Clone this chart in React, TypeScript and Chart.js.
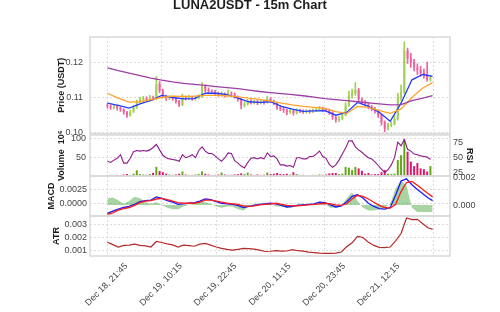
import React, { useEffect, useRef } from 'react';
import { Chart, registerables } from 'chart.js';

Chart.register(...registerables);

// ---------------- data ----------------
const TITLE = 'LUNA2USDT - 15m Chart';
const xTickIdx = [0, 50, 100, 150, 200, 250, 300];
const xTickLabels = ['Dec 18, 21:45', 'Dec 19, 10:15', 'Dec 19, 22:45', 'Dec 20, 11:15', 'Dec 20, 23:45', 'Dec 21, 12:15', ''];

const firstOpen = 0.1078;
const closes = [
  0.1076, 0.1072, 0.1075, 0.1070, 0.1066, 0.1058, 0.1050, 0.1060, 0.1072, 0.1088,
  0.1094, 0.1098, 0.1093, 0.1099, 0.1096, 0.1138, 0.1120, 0.1104, 0.1098, 0.1101,
  0.1097, 0.1090, 0.1079, 0.1100, 0.1097, 0.1101, 0.1096, 0.1099, 0.1102, 0.1132,
  0.1122, 0.1118, 0.1116, 0.1112, 0.1108, 0.1110, 0.1106, 0.1112, 0.1110, 0.1102,
  0.1096, 0.1078, 0.1082, 0.1090, 0.1086, 0.1089, 0.1085, 0.1088, 0.1086, 0.1097,
  0.1089, 0.1085, 0.1072, 0.1068, 0.1064, 0.1058, 0.1062, 0.1056, 0.1063, 0.1061,
  0.1059, 0.1062, 0.1060, 0.1063, 0.1066, 0.1070, 0.1066, 0.1064, 0.1058, 0.1044,
  0.1036, 0.1040, 0.1050, 0.1078, 0.1105, 0.1112, 0.1122, 0.1095, 0.1088, 0.1082,
  0.1074, 0.1068, 0.1062, 0.1050, 0.1030, 0.1012, 0.1022, 0.1026, 0.1040, 0.1100,
  0.1115, 0.1232, 0.1210, 0.1200, 0.1185, 0.1178, 0.1170, 0.1166, 0.1150, 0.1155,
];
const highs = [
  0.1082, 0.1079, 0.1080, 0.1078, 0.1074, 0.1068, 0.1061, 0.1064, 0.1077, 0.1093,
  0.1101, 0.1103, 0.1102, 0.1106, 0.1104, 0.1160, 0.1145, 0.1124, 0.1107, 0.1106,
  0.1104, 0.1099, 0.1092, 0.1110, 0.1104, 0.1106, 0.1104, 0.1104, 0.1108, 0.1142,
  0.1136, 0.1127, 0.1122, 0.1120, 0.1115, 0.1116, 0.1113, 0.1121, 0.1116, 0.1113,
  0.1105, 0.1098, 0.1088, 0.1095, 0.1094, 0.1093, 0.1092, 0.1094, 0.1092, 0.1104,
  0.1100, 0.1093, 0.1087, 0.1076, 0.1072, 0.1067, 0.1068, 0.1065, 0.1068, 0.1067,
  0.1065, 0.1066, 0.1065, 0.1068, 0.1071, 0.1075, 0.1073, 0.1070, 0.1067, 0.1060,
  0.1047, 0.1046, 0.1056, 0.1085, 0.1118, 0.1124, 0.1142, 0.1126, 0.1099, 0.1092,
  0.1085, 0.1078, 0.1072, 0.1065, 0.1053, 0.1034, 0.1028, 0.1032, 0.1048, 0.1112,
  0.1135, 0.1257, 0.1240, 0.1225, 0.1208, 0.1195, 0.1188, 0.1180, 0.1200, 0.1162,
];
const lows = [
  0.1070, 0.1066, 0.1068, 0.1064, 0.1061, 0.1053, 0.1044, 0.1047, 0.1057, 0.1069,
  0.1084, 0.1090, 0.1088, 0.1090, 0.1092, 0.1094, 0.1114, 0.1099, 0.1092, 0.1094,
  0.1092, 0.1084, 0.1074, 0.1077, 0.1093, 0.1094, 0.1092, 0.1093, 0.1096, 0.1100,
  0.1116, 0.1113, 0.1111, 0.1107, 0.1104, 0.1104, 0.1101, 0.1103, 0.1106, 0.1098,
  0.1090, 0.1068, 0.1073, 0.1078, 0.1081, 0.1082, 0.1080, 0.1082, 0.1081, 0.1084,
  0.1085, 0.1080, 0.1066, 0.1063, 0.1058, 0.1051, 0.1055, 0.1050, 0.1053, 0.1057,
  0.1055, 0.1056, 0.1056, 0.1057, 0.1060, 0.1063, 0.1061, 0.1059, 0.1052, 0.1038,
  0.1030, 0.1032, 0.1037, 0.1048, 0.1075, 0.1098, 0.1106, 0.1088, 0.1082, 0.1076,
  0.1068, 0.1062, 0.1056, 0.1044, 0.1022, 0.1003, 0.1008, 0.1017, 0.1022, 0.1036,
  0.1092, 0.1110, 0.1196, 0.1185, 0.1175, 0.1165, 0.1160, 0.1155, 0.1146, 0.1146,
];
// volume in millions
const volume = [
  2, 3, 2, 3, 2, 4, 5, 3, 6, 15,
  5, 4, 3, 5, 8, 24, 13, 10, 6, 4,
  3, 4, 6, 12, 4, 3, 3, 4, 5, 12,
  6, 4, 3, 3, 4, 9, 4, 3, 3, 4,
  5, 7, 5, 9, 4, 3, 4, 3, 3, 9,
  5, 6, 8, 5, 5, 6, 4, 10, 5, 3,
  3, 2, 2, 3, 3, 4, 3, 4, 7, 8,
  8, 5, 6, 24, 22, 16, 24, 20, 14, 6,
  8, 4, 5, 5, 10, 16, 6, 5, 6, 42,
  55, 97, 64, 38, 26, 34, 20, 18, 12, 26,
];
const rsi = [
  44, 42, 46, 49, 55, 41, 41, 49, 60, 62,
  61, 62, 61, 63, 67, 72, 63, 54, 50, 48,
  47, 46, 44, 55, 50, 52, 55, 50, 62, 68,
  61, 57, 57, 53, 48, 44, 50, 58, 57, 45,
  41, 36, 33, 42, 49, 50, 48, 50, 48, 58,
  52, 53, 48, 38, 38, 36, 37, 34, 50, 50,
  48, 48, 52, 52, 56, 61, 52, 49, 39, 34,
  38, 46, 56, 66, 78, 78, 68, 63, 59, 54,
  50, 48, 43, 37, 31, 25, 30, 38, 50, 76,
  70, 80, 64, 61, 56, 55, 53, 52, 51, 47,
];
const emaFast = [
  0.1084, 0.1078, 0.1070, 0.1082, 0.1092, 0.1106, 0.1100, 0.1096, 0.1097, 0.1112,
  0.1112, 0.1108, 0.1098, 0.1088, 0.1086, 0.1088, 0.1075, 0.1067, 0.1061, 0.1062,
  0.1063, 0.1050, 0.1058, 0.1086, 0.1075, 0.1058, 0.1033, 0.1084, 0.1150, 0.1165,
  0.1160,
];
const emaMid = [
  0.1112, 0.1098, 0.1087, 0.1088, 0.1094, 0.1100, 0.1104, 0.1103, 0.1104, 0.1106,
  0.1106, 0.1105, 0.1102, 0.1098, 0.1095, 0.1090, 0.1084, 0.1079, 0.1075, 0.1072,
  0.1069, 0.1060, 0.1055, 0.1075, 0.1072, 0.1063, 0.1055, 0.1068, 0.1100, 0.1127,
  0.1142,
];
const emaSlow = [
  0.1184, 0.1176, 0.1169, 0.1162, 0.1155, 0.1149, 0.1144, 0.1140, 0.1137, 0.1134,
  0.1131, 0.1128, 0.1125, 0.1121, 0.1117, 0.1114, 0.1111, 0.1108, 0.1105, 0.1101,
  0.1097, 0.1094, 0.1091, 0.1088, 0.1085, 0.1082, 0.1079, 0.1080, 0.1091, 0.1098,
  0.1105,
];
const macdLine = [
  -0.0019, -0.0015, -0.0011, -0.0008, -0.0006, -0.0002, 0.0003, 0.0005, 0.0006, 0.0012,
  0.0009, 0.0005, 0.0002, -0.0002, -0.0001, 0.0000, 0.0001, 0.0004, 0.0008, 0.0007,
  0.0003, 0.0000, -0.0001, -0.0002, -0.0004, -0.0008, -0.0006, -0.0004, -0.0002, -0.0001,
  0.0000, -0.0001, -0.0004, -0.0007, -0.0006, -0.0004, -0.0003, -0.0002, -0.0001, 0.0002,
  0.0001, -0.0003, -0.0007, -0.0005, 0.0003, 0.0013, 0.0016, 0.0010, 0.0000, -0.0006,
  -0.0010, -0.0011, -0.0008, 0.0015, 0.0042, 0.0046, 0.0035, 0.0026, 0.0018, 0.0010,
  0.0005,
];
const signalLine = [
  -0.0021, -0.0018, -0.0013, -0.0010, -0.0008, -0.0004, 0.0001, 0.0004, 0.0005, 0.0008,
  0.0009, 0.0007, 0.0004, 0.0001, 0.0000, 0.0000, 0.0000, 0.0002, 0.0006, 0.0006,
  0.0004, 0.0002, 0.0000, -0.0001, -0.0002, -0.0005, -0.0006, -0.0005, -0.0003, -0.0002,
  -0.0001, 0.0000, -0.0002, -0.0004, -0.0005, -0.0005, -0.0004, -0.0003, -0.0002, -0.0001,
  0.0000, -0.0001, -0.0003, -0.0004, -0.0001, 0.0008, 0.0015, 0.0013, 0.0008, 0.0002,
  -0.0004, -0.0008, -0.0009, -0.0002, 0.0022, 0.0039, 0.0041, 0.0034, 0.0026, 0.0018,
  0.0012,
];
const macdHist = [
  0.0005, 0.00055, 0.00035, 0.0001, 0.0003, 0.0006, 0.0005, 0.0002, 0.0001, 0.0002,
  0.0000, -0.0002, -0.0003, -0.0003, -0.0001, 0.0000, 0.0001, 0.0003, 0.0002, 0.0001,
  -0.0001, -0.0002, -0.0001, -0.0001, -0.0003, -0.0004, -0.0001, 0.0001, 0.0001, 0.0001,
  0.0001, -0.0001, -0.0001, -0.0002, -0.0002, 0.0001, 0.0001, 0.0000, 0.0001, 0.0002,
  0.0001, -0.0002, -0.0002, -0.0001, 0.0005, 0.0009, 0.0003, -0.0002, -0.0004, -0.0004,
  -0.0003, -0.0002, 0.0001, 0.0012, 0.0018, 0.0014, -0.0002, -0.0005, -0.0005, -0.0005,
  -0.0005,
];
const atr = [
  0.00164, 0.00146, 0.00127, 0.00140, 0.00142, 0.00150, 0.00140, 0.00137, 0.00128, 0.00170,
  0.00162, 0.00152, 0.00144, 0.00128, 0.00142, 0.00138, 0.00134, 0.00150, 0.00155, 0.00142,
  0.00128, 0.00118, 0.00110, 0.00105, 0.00110, 0.00118, 0.00116, 0.00112, 0.00104, 0.00094,
  0.00096, 0.00100, 0.00097, 0.00098, 0.00108, 0.00100, 0.00097, 0.00090, 0.00086, 0.00082,
  0.00080, 0.00080, 0.00082, 0.00090, 0.00130, 0.00160, 0.00208, 0.00200, 0.00165, 0.00140,
  0.00126, 0.00124, 0.00128, 0.00175, 0.00230, 0.00348, 0.00335, 0.00338, 0.00305, 0.00272,
  0.00264,
];

const priceTicks = [0.10, 0.11, 0.12];
const priceTickLabels = ['0.10', '0.11', '0.12'];
const volTicks = [50, 100];
const volTickLabels = ['50', '100'];
const rsiTicks = [25, 50, 75];
const rsiTickLabels = ['25', '50', '75'];
const macdTicks = [0, 0.0025];
const macdTickLabels = ['0.0000', '0.0025'];
const histTicks = [0, 0.002];
const histTickLabels = ['0.000', '0.002'];
const atrTicks = [0.001, 0.002, 0.003];
const atrTickLabels = ['0.001', '0.002', '0.003'];

// x positions (bar index of each sample)
const barIdx = closes.map((_, k) => k * 3);
const idx5 = macdLine.map((_, k) => Math.min(k * 5, 299));
const idx10 = emaFast.map((_, k) => Math.min(k * 10, 299));
const opens = closes.map((_, k) => (k === 0 ? firstOpen : closes[k - 1]));

// ---------------- style ----------------
const FONT = '"Liberation Sans", Arial, Helvetica, sans-serif';
const GRID = '#d2d2d2';
const TICK = '#444444';
const LABEL = '#1e1e1e';
const UP = '#a2cf52';
const DOWN = '#f0619f';
const VOL_UP = '#62a515';
const VOL_DOWN = '#e1136b';
const X_MIN = -16;
const X_MAX = 315;

Chart.defaults.font.family = FONT;
Chart.defaults.color = TICK;

const pts = (xs: number[], ys: number[]) => xs.map((x, k) => ({ x, y: ys[k] }));

const framePlugin = {
  id: 'panelFrame',
  afterDatasetsDraw(chart: any) {
    const { ctx, chartArea: a } = chart;
    ctx.save();
    ctx.strokeStyle = '#d9d9d9';
    ctx.lineWidth = 1.5;
    ctx.strokeRect(a.left, a.top, a.right - a.left, a.bottom - a.top);
    ctx.restore();
  },
};

function xAxis(showLabels: boolean) {
  const s: any = {
    type: 'linear',
    min: X_MIN,
    max: X_MAX,
    offset: false,
    afterBuildTicks: (sc: any) => {
      sc.ticks = xTickIdx.map((v) => ({ value: v }));
    },
    grid: { color: GRID, lineWidth: 0.8, drawTicks: false, offset: false },
    border: { display: false, dash: [2, 2] },
    ticks: { display: false },
  };
  if (showLabels) {
    s.ticks = {
      display: true,
      autoSkip: false,
      minRotation: 45,
      maxRotation: 45,
      padding: 5,
      labelOffset: 19,
      color: TICK,
      font: { size: 9, family: FONT },
      callback: (_v: any, i: number) => xTickLabels[i] ?? '',
    };
    s.afterFit = (sc: any) => {
      sc.height = 56;
    };
  }
  return s;
}

function yAxis(o: {
  position?: string;
  min: number;
  max: number;
  ticks: number[];
  labels: string[];
  title?: string;
  titleOffset?: number;
  pad: number;
  grid: boolean;
  width: number;
}) {
  return {
    type: 'linear',
    position: o.position ?? 'left',
    min: o.min,
    max: o.max,
    afterBuildTicks: (sc: any) => {
      sc.ticks = o.ticks.map((v) => ({ value: v }));
    },
    afterFit: (sc: any) => {
      sc.width = o.width;
    },
    grid: { display: o.grid, color: GRID, lineWidth: 0.8, drawTicks: false },
    border: { display: false, dash: [2, 2] },
    ticks: {
      padding: o.pad,
      color: TICK,
      font: { size: 9, family: FONT },
      callback: (_v: any, i: number) => o.labels[i],
    },
    title: o.title
      ? {
          display: true,
          text: o.title,
          color: LABEL,
          font: { size: 9, weight: 'bold', family: FONT },
          padding: { top: o.titleOffset ?? 0, bottom: 0 },
        }
      : { display: false },
  };
}

const baseOptions = (padding: any) => ({
  responsive: false,
  animation: false as const,
  events: [] as any[],
  layout: { padding },
  plugins: { legend: { display: false }, tooltip: { enabled: false }, title: { display: false } },
});

const line = (data: any[], color: string, axis: string, width = 1.2) => ({
  type: 'line' as const,
  data,
  borderColor: color,
  borderWidth: width,
  pointRadius: 0,
  fill: false,
  yAxisID: axis,
});

function priceConfig(): any {
  const colors = closes.map((c, k) => (c >= opens[k] ? UP : DOWN));
  return {
    type: 'bar',
    data: {
      datasets: [
        line(pts(idx10, emaSlow), '#9d3ea6', 'y', 1.3),
        line(pts(idx10, emaMid), '#ffa42a', 'y', 1.3),
        line(pts(idx10, emaFast), '#1f3dff', 'y', 1.3),
        {
          type: 'bar',
          data: barIdx.map((x, k) => ({ x, y: [opens[k], closes[k]] })),
          backgroundColor: colors,
          barPercentage: 0.6,
          categoryPercentage: 1,
          grouped: false,
          yAxisID: 'y',
        },
        {
          type: 'bar',
          data: barIdx.map((x, k) => ({ x, y: [lows[k], highs[k]] })),
          backgroundColor: colors,
          barThickness: 1,
          grouped: false,
          yAxisID: 'y',
        },
      ],
    },
    options: {
      ...baseOptions({ top: 0, bottom: 11, left: 0, right: 0 }),
      plugins: {
        legend: { display: false },
        tooltip: { enabled: false },
        title: {
          display: true,
          text: TITLE,
          color: LABEL,
          font: { size: 13, weight: 'bold', family: FONT, lineHeight: 0.8 },
          padding: { top: 0.5, bottom: 26.1 },
        },
      },
      scales: {
        x: xAxis(false),
        y: yAxis({ min: 0.0998, max: 0.1271, ticks: priceTicks, labels: priceTickLabels, title: 'Price (USDT)', titleOffset: 56.6, pad: 7, grid: true, width: 90 }),
        yR: {
          type: 'linear',
          position: 'right',
          min: 0,
          max: 1,
          ticks: { display: false },
          grid: { display: false },
          border: { display: false },
          afterFit: (sc: any) => {
            sc.width = 50;
          },
        },
      },
    },
    plugins: [framePlugin],
  };
}

function volumeConfig(): any {
  const colors = closes.map((c, k) => (c >= opens[k] ? VOL_UP : VOL_DOWN));
  return {
    type: 'bar',
    data: {
      datasets: [
        line(pts(barIdx, rsi), '#8e1a8c', 'rsi', 1.1),
        {
          type: 'bar',
          data: barIdx.map((x, k) => ({ x, y: volume[k] })),
          backgroundColor: colors,
          barPercentage: 0.6,
          categoryPercentage: 1,
          grouped: false,
          yAxisID: 'vol',
        },
      ],
    },
    options: {
      ...baseOptions({ top: 10, bottom: 10, left: 0, right: 0 }),
      scales: {
        x: xAxis(false),
        vol: yAxis({ min: 0, max: 108, ticks: volTicks, labels: volTickLabels, title: 'Volume  10\u2076', titleOffset: 56.6, pad: 4, grid: true, width: 90 }),
        rsi: yAxis({ position: 'right', min: 19.5, max: 87.8, ticks: rsiTicks, labels: rsiTickLabels, title: 'RSI', titleOffset: 25.6, pad: 3, grid: false, width: 50 }),
      },
    },
    plugins: [framePlugin],
  };
}

function macdConfig(): any {
  return {
    type: 'line',
    data: {
      datasets: [
        line(pts(idx5, signalLine), '#ff1a1a', 'macd', 1.3),
        line(pts(idx5, macdLine), '#1a1aff', 'macd', 1.3),
        {
          type: 'line',
          data: pts(idx5, macdHist),
          borderWidth: 0,
          pointRadius: 0,
          backgroundColor: 'rgba(80,170,70,0.5)',
          fill: 'origin',
          yAxisID: 'hist',
        },
      ],
    },
    options: {
      ...baseOptions({ top: 10, bottom: 10, left: 0, right: 0 }),
      scales: {
        x: xAxis(false),
        macd: yAxis({ min: -0.0024, max: 0.00513, ticks: macdTicks, labels: macdTickLabels, title: 'MACD', titleOffset: 46.6, pad: 3, grid: true, width: 90 }),
        hist: yAxis({ position: 'right', min: -0.00079, max: 0.0021, ticks: histTicks, labels: histTickLabels, pad: 3, grid: false, width: 50 }),
      },
    },
    plugins: [framePlugin],
  };
}

function atrConfig(): any {
  return {
    type: 'line',
    data: {
      datasets: [line(pts(idx5, atr), '#b52a2a', 'atr', 1.2)],
    },
    options: {
      ...baseOptions({ top: 10, bottom: 0, left: 0, right: 50 }),
      scales: {
        x: xAxis(true),
        atr: yAxis({ min: 0.0006, max: 0.00363, ticks: atrTicks, labels: atrTickLabels, title: 'ATR', titleOffset: 51.6, pad: 3, grid: true, width: 90 }),
      },
    },
    plugins: [framePlugin],
  };
}

export default function App() {
  const r1 = useRef<HTMLCanvasElement>(null);
  const r2 = useRef<HTMLCanvasElement>(null);
  const r3 = useRef<HTMLCanvasElement>(null);
  const r4 = useRef<HTMLCanvasElement>(null);

  useEffect(() => {
    const charts = [
      new Chart(r1.current as HTMLCanvasElement, priceConfig()),
      new Chart(r2.current as HTMLCanvasElement, volumeConfig()),
      new Chart(r3.current as HTMLCanvasElement, macdConfig()),
      new Chart(r4.current as HTMLCanvasElement, atrConfig()),
    ];
    return () => charts.forEach((c) => c.destroy());
  }, []);

  const cs = (top: number): React.CSSProperties => ({ position: 'absolute', left: 0, top });

  return (
    <div style={{ position: 'absolute', left: 0, top: 0, width: 500, height: 312, background: '#ffffff', overflow: 'hidden' }}>
      <canvas ref={r1} width={500} height={146} style={cs(0)} />
      <canvas ref={r2} width={500} height={61} style={cs(125)} />
      <canvas ref={r3} width={500} height={60} style={cs(166)} />
      <canvas ref={r4} width={500} height={106} style={cs(206)} />
    </div>
  );
}
